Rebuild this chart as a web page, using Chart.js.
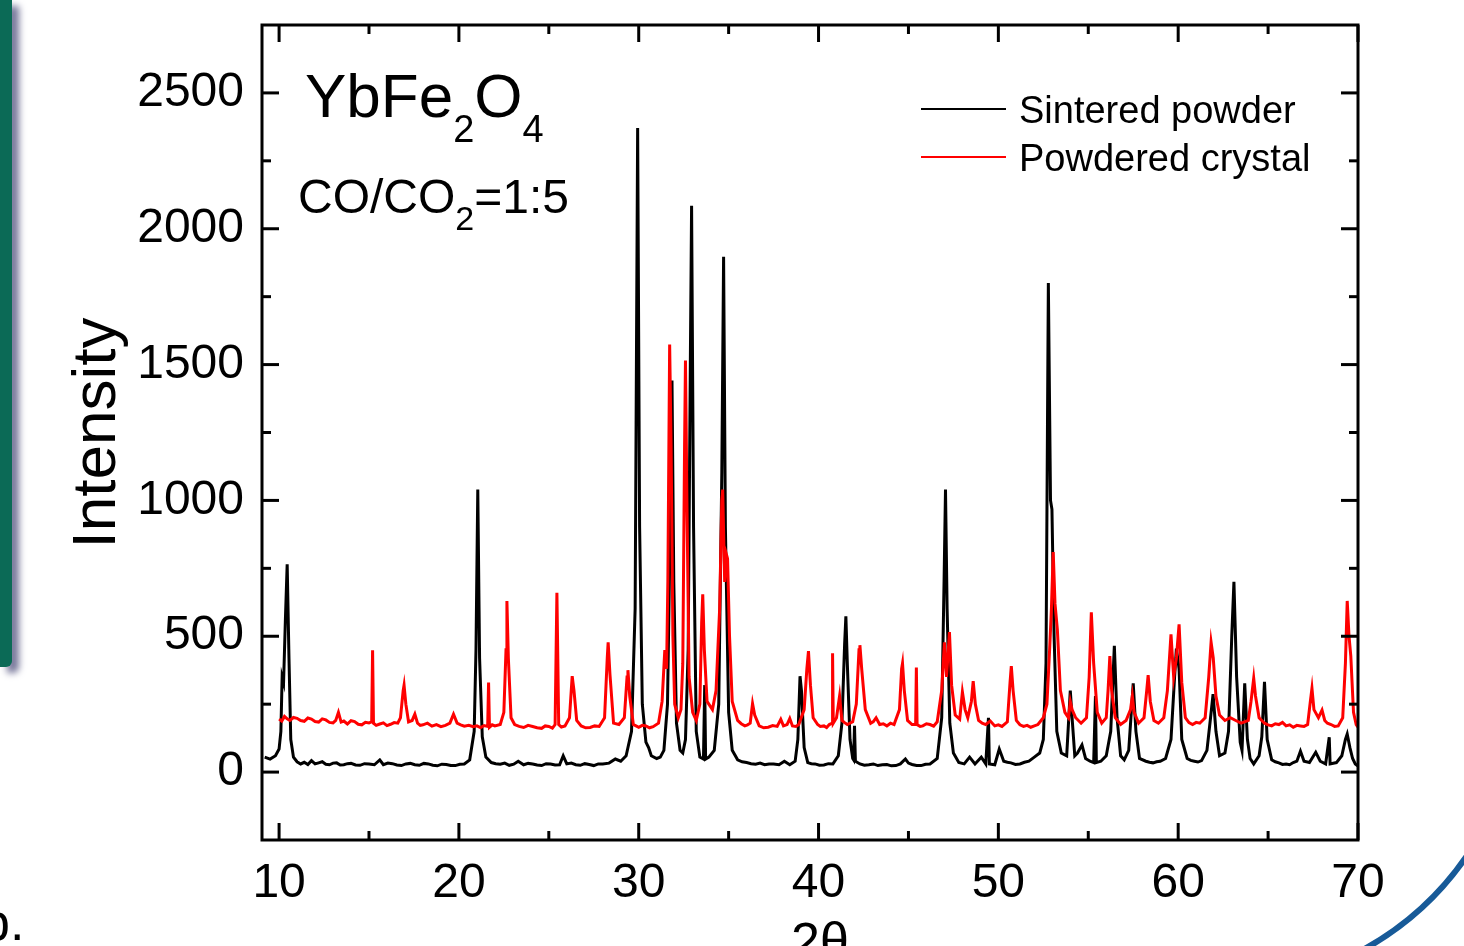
<!DOCTYPE html>
<html>
<head>
<meta charset="utf-8">
<script src="https://cdn.jsdelivr.net/npm/chart.js@4.4.1/dist/chart.umd.min.js"></script>
<style>
  html, body { margin: 0; padding: 0; background: #fff; overflow: hidden; }
  #wrap { position: relative; width: 1464px; height: 946px; }
  #sidebar { position: absolute; left: 0; top: 0; width: 12px; height: 667px; background: #0b6a56;
             border-bottom-right-radius: 6px; box-shadow: 7px 6px 7px #77779a; }
</style>
</head>
<body>
<div id="wrap">
  <canvas id="xrd" width="1464" height="946"></canvas>
  <div id="sidebar"></div>
</div>
<script>
// 2theta (deg) / intensity pairs
const sintered = [
  [9.2, 55], [9.5, 48], [9.8, 60], [10.0, 85], [10.1, 150], [10.17, 350], [10.25, 330], [10.35, 560],
  [10.45, 765], [10.55, 420], [10.65, 120], [10.8, 55], [11.0, 38], [11.2, 30], [11.4, 36], [11.6, 28], [11.8, 42], [12.0, 30],
  [12.2, 34], [12.4, 38], [12.6, 29], [12.8, 27], [13.0, 33], [13.2, 34], [13.4, 26], [13.6, 27], [13.8, 31], [14.0, 32], [14.25, 26], [14.5, 25], [14.75, 31], [15.0, 30], [15.3, 27], [15.6, 45],
  [15.8, 27], [16.05, 33], [16.3, 31], [16.55, 26], [16.8, 24], [17.05, 30], [17.3, 32], [17.55, 27], [17.8, 25], [18.05, 32], [18.3, 30], [18.55, 25], [18.8, 23], [19.05, 29], [19.3, 28],
  [19.55, 24], [19.8, 24], [20.05, 29], [20.3, 30], [20.6, 45], [20.85, 150], [20.95, 450], [21.05, 1040], [21.15, 420], [21.3, 130],
  [21.5, 55], [21.8, 35], [22.05, 31], [22.3, 29], [22.55, 33], [22.8, 25], [23.05, 29], [23.3, 40], [23.6, 27], [23.85, 32], [24.1, 30], [24.35, 26], [24.6, 24],
  [24.85, 31], [25.1, 30], [25.35, 26], [25.6, 27], [25.8, 60], [26.0, 30], [26.25, 33], [26.5, 27], [26.75, 25], [27.0, 31], [27.25, 28], [27.5, 24], [27.75, 30], [28.0, 30],
  [28.35, 33], [28.7, 48], [29.0, 40], [29.3, 60], [29.6, 150], [29.8, 600], [29.94, 2371], [30.05, 900], [30.2, 250],
  [30.4, 110], [30.55, 90], [30.7, 60], [31.0, 50], [31.2, 55], [31.4, 80], [31.6, 250], [31.75, 900],
  [31.85, 1441], [31.95, 700], [32.1, 180], [32.3, 80], [32.45, 70], [32.6, 120], [32.75, 450], [32.87, 1500],
  [32.94, 2085], [33.05, 900], [33.2, 150], [33.4, 55], [33.6, 48], [33.67, 320], [33.72, 48], [33.9, 55],
  [34.2, 80], [34.45, 250], [34.62, 1100], [34.72, 1897], [34.82, 900], [35.0, 220], [35.2, 80], [35.5, 45],
  [35.75, 38], [36.0, 35], [36.25, 31], [36.5, 29], [36.75, 33], [37.0, 27], [37.25, 30], [37.5, 30], [37.8, 27], [38.1, 40], [38.4, 27], [38.7, 40], [38.85, 120],
  [38.97, 353], [39.05, 300], [39.2, 90], [39.4, 35], [39.6, 31], [39.8, 30], [40.05, 25], [40.3, 26], [40.55, 31], [40.8, 30], [41.1, 60],
  [41.3, 180], [41.45, 470], [41.52, 573], [41.6, 400], [41.75, 120], [41.9, 50], [41.95, 45], [42.0, 170],
  [42.05, 40], [42.3, 30], [42.55, 25], [42.8, 27], [43.05, 30], [43.3, 24], [43.55, 27], [43.8, 28], [44.05, 23], [44.3, 24], [44.55, 30], [44.83, 48], [45.0, 33], [45.2, 28],
  [45.45, 24], [45.7, 24], [45.95, 29], [46.2, 30], [46.6, 50], [46.85, 200], [46.98, 700], [47.06, 1040], [47.15, 600], [47.3, 180],
  [47.5, 70], [47.8, 35], [48.1, 30], [48.4, 55], [48.7, 30], [49.05, 55], [49.3, 30], [49.45, 200],
  [49.5, 30], [49.8, 27], [50.05, 85], [50.3, 40], [50.5, 36], [50.7, 34], [50.95, 28], [51.2, 30], [51.45, 36], [51.7, 40], [52.0, 55],
  [52.3, 70], [52.5, 120], [52.65, 400], [52.78, 1800], [52.9, 1000], [52.98, 967], [53.1, 500], [53.25, 150],
  [53.5, 70], [53.8, 60], [54.0, 300], [54.1, 200], [54.25, 60], [54.4, 70], [54.65, 100], [54.85, 50],
  [55.1, 40], [55.3, 35], [55.4, 280], [55.45, 35], [55.7, 40], [56.0, 60], [56.25, 150], [56.45, 465],
  [56.6, 200], [56.8, 60], [57.0, 45], [57.25, 80], [57.5, 327], [57.65, 150], [57.85, 50], [58.2, 40],
  [58.4, 36], [58.6, 34], [58.8, 38], [59.0, 40], [59.3, 50], [59.6, 120], [59.8, 350], [59.9, 455], [60.05, 380], [60.2, 120],
  [60.5, 50], [60.7, 43], [60.9, 40], [61.1, 37], [61.3, 42], [61.6, 80], [61.8, 200], [61.94, 287], [62.1, 150], [62.3, 60],
  [62.6, 70], [62.8, 150], [62.98, 500], [63.1, 700], [63.25, 350], [63.45, 110], [63.55, 80], [63.7, 327],
  [63.85, 120], [64.0, 50], [64.2, 30], [64.5, 60], [64.65, 130], [64.8, 332], [64.95, 120], [65.2, 45],
  [65.4, 38], [65.6, 34], [65.8, 28], [66.0, 30], [66.2, 27], [66.4, 35], [66.6, 40], [66.8, 77], [67.0, 40], [67.3, 35], [67.65, 73], [67.9, 40],
  [68.2, 30], [68.4, 128], [68.45, 30], [68.8, 35], [69.1, 60], [69.3, 120], [69.4, 140], [69.55, 90],
  [69.7, 50], [69.85, 30], [70.0, 22]
];

const crystal = [
  [10.0, 195], [10.15, 188], [10.3, 205], [10.45, 196], [10.6, 190], [10.8, 201], [11.0, 198], [11.2, 190], [11.4, 187], [11.6, 199], [11.8, 195], [12.0, 186], [12.2, 184], [12.4, 196], [12.6, 192],
  [12.8, 183], [13.0, 181], [13.15, 190], [13.3, 220], [13.45, 184], [13.6, 188], [13.8, 177], [14.0, 189], [14.2, 186], [14.4, 176], [14.6, 174], [14.8, 183], [15.0, 181], [15.15, 185],
  [15.2, 448], [15.25, 180], [15.4, 172], [15.6, 177], [15.8, 181], [16.0, 171], [16.2, 176], [16.4, 182], [16.6, 180], [16.75, 200], [16.9, 300], [16.95, 320],
  [17.05, 250], [17.2, 185], [17.4, 190], [17.55, 213], [17.7, 180], [17.85, 172], [18.0, 174], [18.25, 180], [18.5, 169], [18.75, 175], [19.0, 167], [19.25, 172],
  [19.5, 180], [19.7, 213], [19.9, 180], [20.1, 174], [20.3, 169], [20.55, 172], [20.8, 167], [21.0, 170], [21.2, 164], [21.4, 171], [21.6, 168], [21.65, 330],
  [21.7, 165], [21.85, 174], [22.0, 170], [22.3, 175], [22.5, 220], [22.62, 450], [22.67, 630], [22.75, 420], [22.9, 200],
  [23.1, 175], [23.35, 168], [23.6, 164], [23.85, 172], [24.1, 168], [24.35, 163], [24.6, 161], [24.8, 170], [25.0, 168], [25.2, 162], [25.35, 175], [25.45, 660], [25.55, 175],
  [25.7, 166], [25.9, 170], [26.15, 200], [26.3, 353], [26.4, 300], [26.55, 190], [26.8, 170], [27.05, 163], [27.3, 164], [27.55, 170], [27.8, 168],
  [28.1, 200], [28.25, 420], [28.3, 478], [28.4, 360], [28.6, 180], [28.9, 175], [29.2, 200], [29.35, 350],
  [29.4, 375], [29.5, 280], [29.7, 175], [29.85, 170], [30.0, 165], [30.2, 172], [30.4, 170], [30.6, 163], [30.8, 167], [31.1, 180], [31.3, 260],
  [31.45, 449], [31.55, 380], [31.62, 700], [31.72, 1574], [31.8, 1200], [31.9, 500], [32.0, 250], [32.2, 200],
  [32.35, 230], [32.45, 400], [32.55, 1200], [32.6, 1515], [32.68, 1000], [32.8, 350], [33.0, 220], [33.2, 190],
  [33.4, 250], [33.5, 550], [33.56, 654], [33.65, 450], [33.8, 260], [34.1, 230], [34.3, 300], [34.5, 600],
  [34.62, 1000], [34.67, 1040], [34.78, 700], [34.88, 800], [34.94, 785], [35.05, 500], [35.2, 260], [35.5, 190],
  [35.7, 178], [35.9, 170], [36.05, 174], [36.2, 180], [36.33, 252], [36.45, 210], [36.7, 170], [36.95, 163], [37.2, 165], [37.45, 171], [37.7, 168], [37.9, 194],
  [38.05, 170], [38.25, 175], [38.4, 197], [38.55, 170], [38.75, 168], [38.9, 175], [39.2, 230], [39.35, 380], [39.44, 445], [39.55, 320],
  [39.7, 200], [39.95, 175], [40.1, 168], [40.3, 170], [40.45, 164], [40.6, 175], [40.75, 180], [40.78, 437], [40.82, 180], [41.0, 200],
  [41.17, 280], [41.3, 190], [41.45, 182], [41.6, 175], [41.9, 185], [42.1, 250], [42.25, 450], [42.3, 467], [42.4, 380],
  [42.6, 230], [42.9, 180], [43.05, 186], [43.2, 200], [43.4, 175], [43.6, 178], [43.8, 170], [44.0, 180], [44.2, 175], [44.5, 230], [44.62, 380],
  [44.67, 400], [44.77, 300], [44.95, 190], [45.2, 175], [45.4, 175], [45.44, 385], [45.48, 175], [45.65, 168], [45.8, 170], [46.0, 178],
  [46.2, 175], [46.4, 169], [46.6, 185], [46.85, 300], [47.0, 478], [47.12, 350], [47.28, 515], [47.4, 320], [47.6, 210],
  [47.85, 195], [48.0, 295], [48.15, 230], [48.3, 200], [48.5, 260], [48.6, 335], [48.72, 250], [48.9, 190],
  [49.1, 180], [49.3, 175], [49.55, 188], [49.8, 170], [50.0, 174], [50.2, 168], [50.5, 185], [50.65, 330], [50.72, 390], [50.82, 300],
  [51.0, 190], [51.2, 174], [51.4, 168], [51.6, 172], [51.8, 165], [52.0, 170], [52.2, 175], [52.5, 200], [52.7, 250], [52.85, 450], [52.95, 600],
  [53.05, 810], [53.15, 620], [53.28, 525], [53.45, 300], [53.7, 220], [53.9, 200], [54.0, 260], [54.1, 230],
  [54.3, 200], [54.6, 180], [54.9, 200], [55.05, 350], [55.17, 588], [55.3, 400], [55.5, 220], [55.75, 180],
  [56.0, 200], [56.1, 300], [56.2, 427], [56.3, 300], [56.5, 200], [56.8, 175], [57.1, 190], [57.35, 230],
  [57.45, 280], [57.55, 220], [57.8, 180], [58.1, 200], [58.25, 300], [58.33, 357], [58.45, 260], [58.65, 190],
  [58.9, 180], [59.2, 200], [59.4, 300], [59.6, 507], [59.75, 350], [59.9, 420], [60.05, 544], [60.2, 330],
  [60.4, 200], [60.6, 182], [60.8, 175], [61.0, 183], [61.2, 180], [61.5, 200], [61.7, 350], [61.83, 478], [61.95, 420], [62.1, 280],
  [62.3, 210], [62.6, 190], [62.9, 200], [63.2, 190], [63.5, 180], [63.9, 190], [64.05, 260], [64.2, 345],
  [64.3, 280], [64.5, 200], [64.8, 180], [65.0, 174], [65.2, 170], [65.4, 178], [65.6, 175], [65.8, 183], [66.0, 170], [66.2, 174], [66.4, 165],
  [66.6, 172], [66.8, 170], [67.0, 168], [67.2, 175], [67.35, 260], [67.44, 308], [67.55, 230], [67.8, 200], [68.0, 228], [68.15, 190],
  [68.3, 180], [68.5, 175], [68.7, 168], [68.9, 170], [69.15, 200], [69.3, 400], [69.4, 630], [69.5, 500], [69.6, 427], [69.75, 220],
  [69.9, 175], [70.0, 165]
];

const xTicks = [10, 20, 30, 40, 50, 60, 70];
const xMinorTicks = [15, 25, 35, 45, 55, 65];
const yTicks = [0, 500, 1000, 1500, 2000, 2500];
const yMinorTicks = [250, 750, 1250, 1750, 2250];

const FONT = "'Liberation Sans', Arial, sans-serif";

// frame with inward ticks on all four sides, plus the text overlays
const framePlugin = {
  id: 'frame',
  afterDatasetsDraw(chart) {
    const { ctx, chartArea: a, scales } = chart;
    const xs = scales.x, ys = scales.y;
    ctx.save();
    ctx.strokeStyle = '#000';
    ctx.lineWidth = 3;
    ctx.strokeRect(a.left, a.top, a.right - a.left, a.bottom - a.top);
    const tick = (x1, y1, x2, y2) => { ctx.beginPath(); ctx.moveTo(x1, y1); ctx.lineTo(x2, y2); ctx.stroke(); };
    xTicks.forEach(v => { const p = xs.getPixelForValue(v); tick(p, a.bottom, p, a.bottom - 17); tick(p, a.top, p, a.top + 17); });
    xMinorTicks.forEach(v => { const p = xs.getPixelForValue(v); tick(p, a.bottom, p, a.bottom - 9); tick(p, a.top, p, a.top + 9); });
    yTicks.forEach(v => { const p = ys.getPixelForValue(v); tick(a.left, p, a.left + 17, p); tick(a.right, p, a.right - 17, p); });
    yMinorTicks.forEach(v => { const p = ys.getPixelForValue(v); tick(a.left, p, a.left + 9, p); tick(a.right, p, a.right - 9, p); });

    // legend
    ctx.lineWidth = 2;
    ctx.strokeStyle = '#000';
    tick(921, 109, 1006, 109);
    ctx.strokeStyle = '#ff0000';
    tick(921, 157, 1006, 157);
    ctx.fillStyle = '#000';
    ctx.textAlign = 'left';
    ctx.textBaseline = 'alphabetic';
    ctx.font = '38px ' + FONT;
    ctx.fillText('Sintered powder', 1019, 123);
    ctx.fillText('Powdered crystal', 1019, 171);

    // formula and atmosphere
    const parts = (x, y, items) => {
      items.forEach(([txt, size, dy]) => {
        ctx.font = size + 'px ' + FONT;
        ctx.fillText(txt, x, y + dy);
        x += ctx.measureText(txt).width;
      });
    };
    parts(305, 117, [['YbFe', 62, 0], ['2', 38, 25], ['O', 62, 0], ['4', 38, 25]]);
    parts(298, 213, [['CO/CO', 48, 0], ['2', 34, 17], ['=1:5', 48, 0]]);

    // axis titles
    ctx.font = '62px ' + FONT;
    ctx.save();
    ctx.translate(115, 433);
    ctx.rotate(-Math.PI / 2);
    ctx.textAlign = 'center';
    ctx.fillText('Intensity', 0, 0);
    ctx.restore();
    ctx.font = '52px ' + FONT;
    ctx.textAlign = 'center';
    ctx.fillText('2\u03B8', 820, 959);
    ctx.textAlign = 'left';
    ctx.fillText('b.', -19, 940);

    // slide decoration in the corner
    ctx.strokeStyle = '#175a98';
    ctx.lineWidth = 6;
    ctx.beginPath();
    ctx.arc(1215, 682, 306, 0.55, 1.1);
    ctx.stroke();
    ctx.restore();
  }
};

const toPoints = arr => arr.map(([x, y]) => ({ x: x, y: y }));

const ctx = document.getElementById('xrd').getContext('2d');
const chart = new Chart(ctx, {
  type: 'scatter',
  data: {
    datasets: [{
      label: 'Sintered powder',
      data: toPoints(sintered),
      showLine: true,
      borderColor: '#000000',
      borderWidth: 3,
      pointRadius: 0,
      order: 2
    }, {
      label: 'Powdered crystal',
      data: toPoints(crystal),
      showLine: true,
      borderColor: '#ff0000',
      borderWidth: 3,
      pointRadius: 0,
      order: 1
    }]
  },
  plugins: [framePlugin],
  options: {
    responsive: false,
    animation: false,
    events: [],
    layout: { padding: { top: 25, right: 106, left: 0, bottom: 0 } },
    plugins: {
      legend: { display: false },
      tooltip: { enabled: false }
    },
    scales: {
      x: {
        type: 'linear',
        min: 9.05,
        max: 70,
        afterBuildTicks: s => { s.ticks = xTicks.map(v => ({ value: v })); },
        afterFit: s => { s.height = 106; s.paddingLeft = 0; s.paddingRight = 0; },
        grid: { display: false, drawTicks: false },
        border: { display: false },
        ticks: { color: '#000', padding: 15, maxRotation: 0, font: { family: FONT, size: 48 }, callback: v => String(v) }
      },
      y: {
        type: 'linear',
        min: -250,
        max: 2750,
        afterBuildTicks: s => { s.ticks = yTicks.map(v => ({ value: v })); },
        afterFit: s => { s.width = 262; s.paddingTop = 0; s.paddingBottom = 0; },
        grid: { display: false, drawTicks: false },
        border: { display: false },
        ticks: { color: '#000', padding: 18, font: { family: FONT, size: 48 }, callback: v => String(v) }
      }
    }
  }
});
</script>
</body>
</html>
